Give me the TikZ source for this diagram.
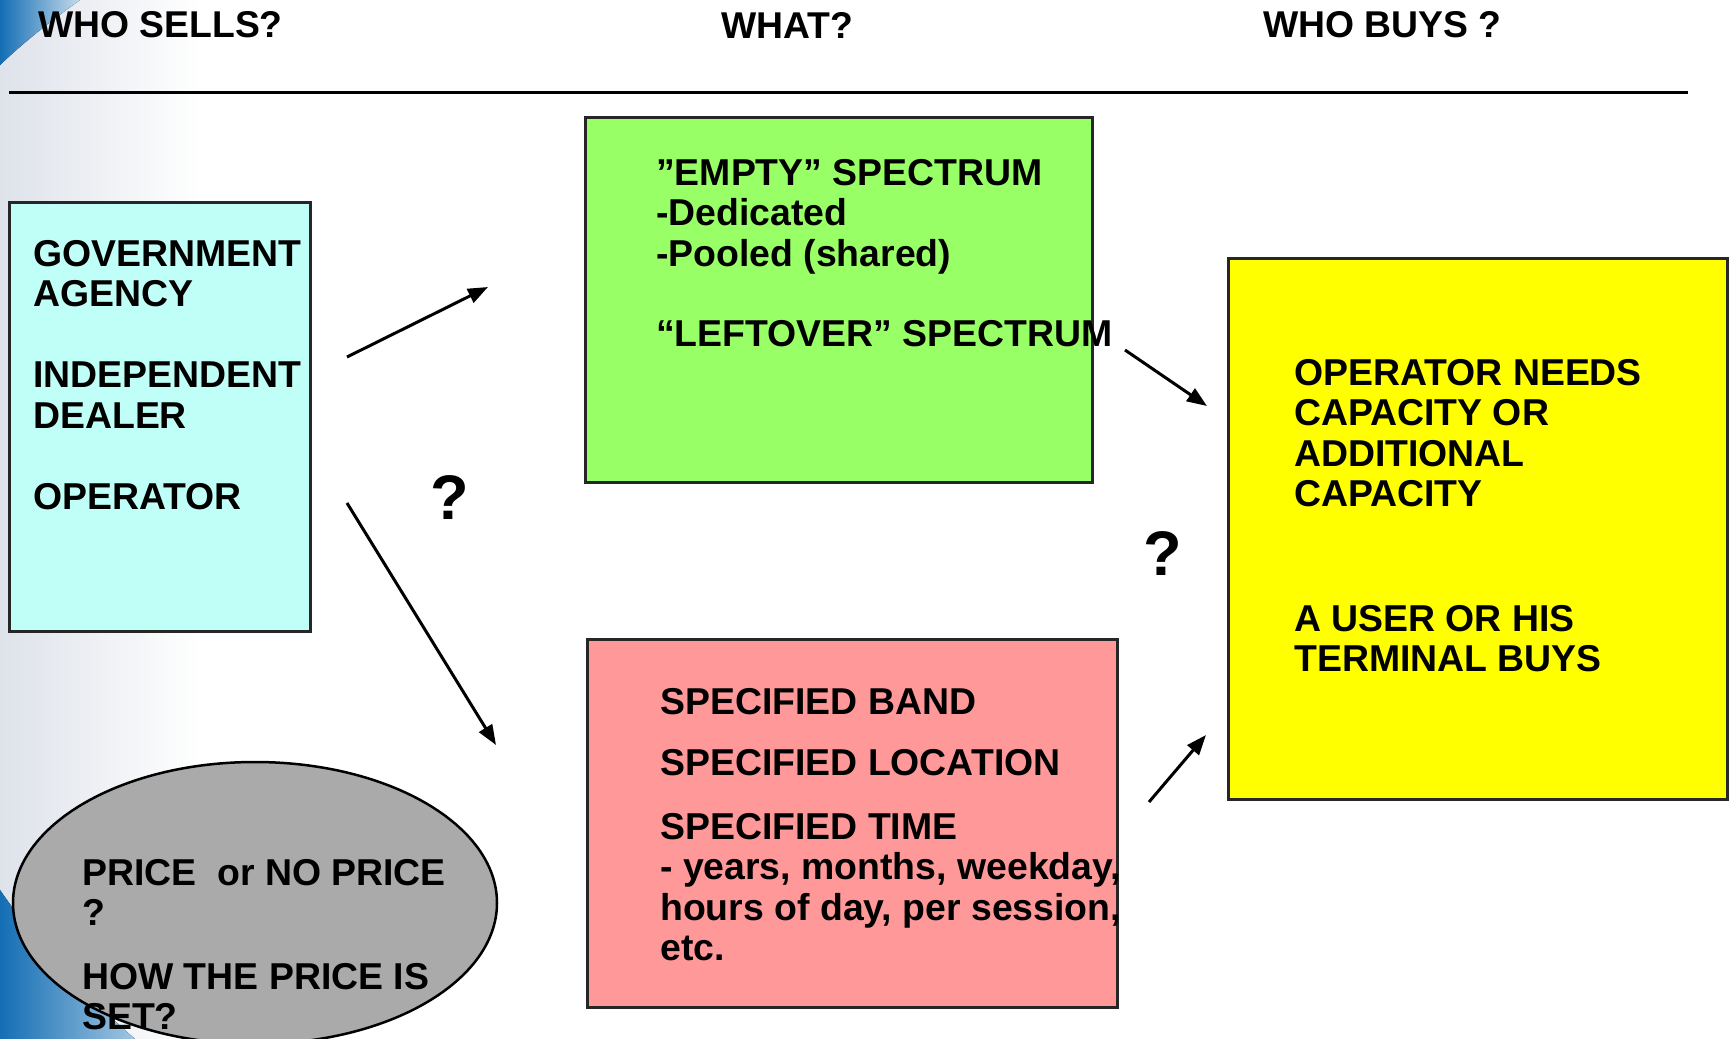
\documentclass[tikz,border=0pt]{standalone}
\usepackage{fontspec}
\setmainfont{Liberation Sans}
\usetikzlibrary{arrows.meta,shapes.geometric}
\definecolor{cyanbox}{RGB}{192,255,248}
\definecolor{greenbox}{RGB}{153,255,102}
\definecolor{yellowbox}{RGB}{255,255,0}
\definecolor{pinkbox}{RGB}{255,153,153}
\definecolor{graybox}{RGB}{170,170,170}
\definecolor{swoosh}{RGB}{20,110,180}
\definecolor{haze}{RGB}{222,226,234}
\tikzset{
  box/.style={draw=black!85, line width=3pt, rectangle, inner sep=0pt, outer sep=0pt},
  txt/.style={font=\fontsize{37.4}{40.5}\selectfont\bfseries, align=left, inner sep=0pt, anchor=north west},
  head/.style={font=\fontsize{37.3}{40}\selectfont\bfseries, inner sep=0pt},
  qmark/.style={font=\fontsize{63}{66}\selectfont\bfseries, inner sep=0pt},
  arr/.style={line width=3pt, -{Triangle[length=20pt,width=15pt]}}
}
\begin{document}
\begin{tikzpicture}[x=1pt,y=-1pt]
\useasboundingbox (0,0) rectangle (1730,1039);
% background decoration
\fill[left color=haze, right color=white] (0,0) rectangle (200,1039);
\fill[white] (200,0) rectangle (1730,1039);
\fill[left color=swoosh, right color=swoosh!25] (0,0) -- (80,0) .. controls (52,20) and (24,42) .. (0,65) -- cycle;
\fill[left color=swoosh, right color=swoosh!40] (0,890) .. controls (40,948) and (85,995) .. (135,1039) -- (0,1039) -- cycle;
% headers
\node[head, anchor=west] (h1) at (38,25) {WHO SELLS?};
\node[head] (h2) at (787,25) {WHAT?};
\node[head, anchor=west] (h3) at (1263,25) {WHO BUYS ?};
\coordinate (ruleL) at (9,92);
\coordinate (ruleR) at (1688,92);
\draw[line width=3pt] (ruleL) -- (ruleR);
% boxes
\node[box, fill=cyanbox, minimum width=301pt, minimum height=429pt] (sell) at (159.5,416.5) {};
\node[box, fill=greenbox, minimum width=507pt, minimum height=365pt] (what1) at (838.5,299.5) {};
\node[box, fill=yellowbox, minimum width=499pt, minimum height=541pt] (buy) at (1477.5,528.5) {};
\node[box, fill=pinkbox, minimum width=530pt, minimum height=368pt] (what2) at (852,823) {};
\node[ellipse, draw=black, line width=2.5pt, fill=graybox, minimum width=484pt, minimum height=282pt, inner sep=0pt] (price) at (255,903) {};
% texts
\node[txt] (sellt) at (33,240) {GOVERNMENT\\AGENCY\\[40.5pt]INDEPENDENT\\DEALER\\[40.5pt]OPERATOR};
\node[txt] (what1t) at (656,159) {”EMPTY” SPECTRUM\\-Dedicated\\-Pooled (shared)\\[40pt]“LEFTOVER” SPECTRUM};
\node[txt] (buyt1) at (1294,359) {OPERATOR NEEDS\\CAPACITY OR\\ADDITIONAL\\CAPACITY};
\node[txt] (buyt2) at (1294,605) {A USER OR HIS\\TERMINAL BUYS};
\node[txt] (what2t) at (660,688) {SPECIFIED BAND\\[21pt]SPECIFIED LOCATION\\[23pt]SPECIFIED TIME\\- years, months, weekday,\\hours of day, per session,\\etc.};
\node[txt] (pricet) at (82,859) {PRICE\ \ or NO PRICE\\?\\[23pt]HOW THE PRICE IS\\SET?};
\node[qmark] (q1) at (450,497) {?};
\node[qmark] (q2) at (1163,553) {?};
% arrows
\coordinate (a1s) at (347,357);
\coordinate (a1e) at (488,287);
\coordinate (a2s) at (347,503);
\coordinate (a2e) at (496,745);
\coordinate (a3s) at (1125,350);
\coordinate (a3e) at (1207,406);
\coordinate (a4s) at (1149,802);
\coordinate (a4e) at (1206,735);
\draw[arr] (a1s) -- (a1e);
\draw[arr] (a2s) -- (a2e);
\draw[arr] (a3s) -- (a3e);
\draw[arr] (a4s) -- (a4e);
\end{tikzpicture}
\end{document}
